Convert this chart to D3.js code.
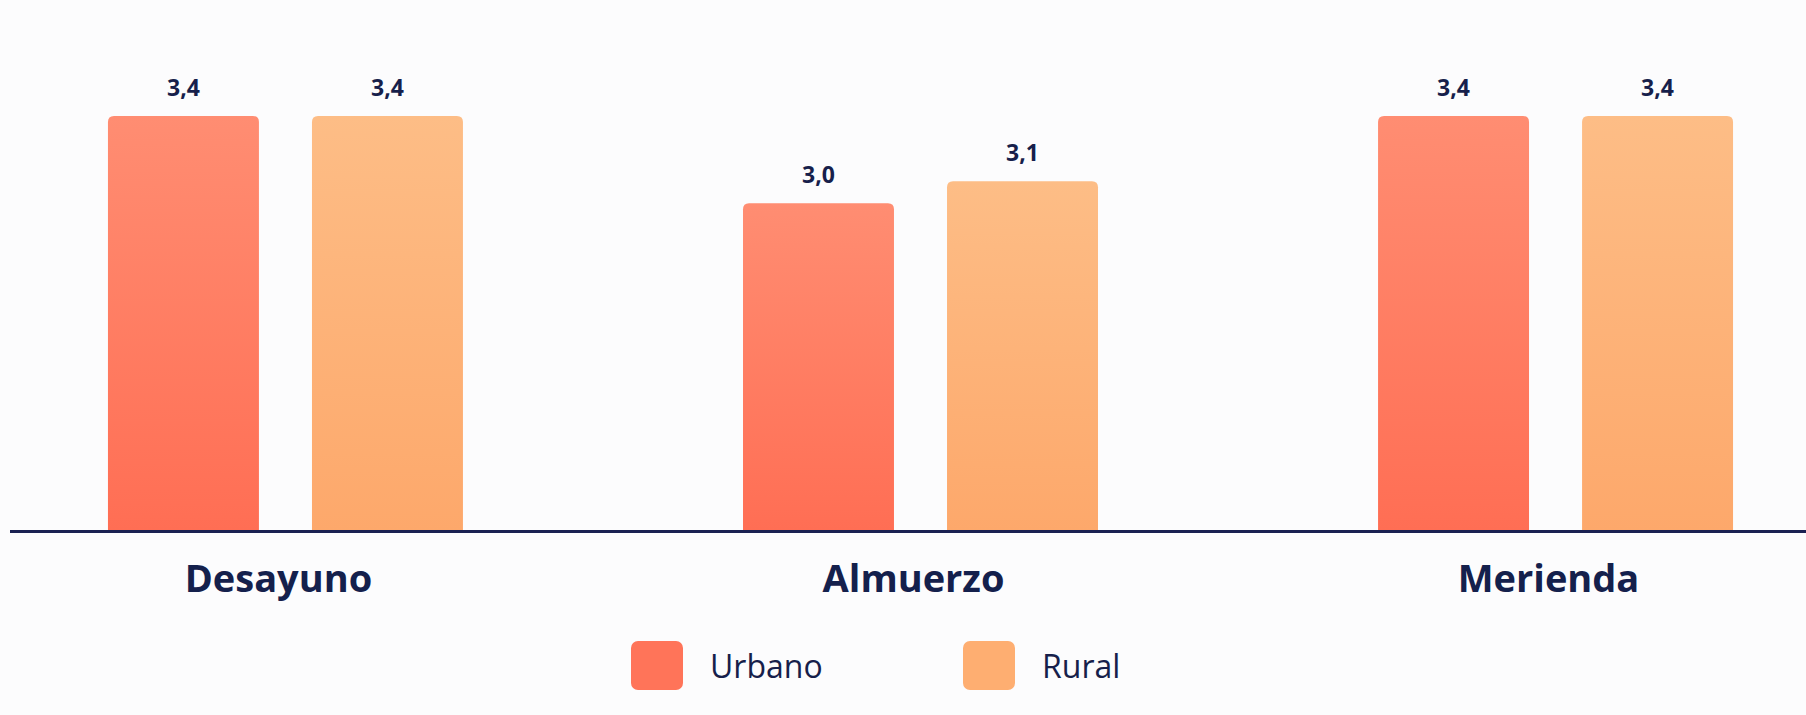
<!DOCTYPE html>
<html>
<head>
<meta charset="utf-8">
<script src="https://cdn.jsdelivr.net/npm/d3@7"></script>
<style>
  html, body { margin: 0; padding: 0; background: #fcfcfd; }
  svg { display: block; }
</style>
</head>
<body>
<svg id="chart" width="1806" height="715"></svg>
<script>
// Meal occasions and the two area series
const categories = ["Desayuno", "Almuerzo", "Merienda"];
const seriesNames = ["Urbano", "Rural"];
const urbano = [3.4, 3.0, 3.4];
const rural = [3.4, 3.1, 3.4];
const valueLabels = { Urbano: ["3,4", "3,0", "3,4"], Rural: ["3,4", "3,1", "3,4"] };

const width = 1806, height = 715;
const baseY = 530;
const ink = "#171f4b";

const seriesValues = { Urbano: urbano, Rural: rural };
const colors = {
  Urbano: { top: "#ff8d72", bottom: "#ff6e54", swatch: "#ff7459" },
  Rural:  { top: "#fdbd86", bottom: "#fda86b", swatch: "#feae71" }
};

const svg = d3.select("#chart");

// vertical gradients for the bars
const defs = svg.append("defs");
seriesNames.forEach(s => {
  const g = defs.append("linearGradient")
    .attr("id", "grad-" + s).attr("x1", 0).attr("y1", 0).attr("x2", 0).attr("y2", 1);
  g.append("stop").attr("offset", "0%").attr("stop-color", colors[s].top);
  g.append("stop").attr("offset", "100%").attr("stop-color", colors[s].bottom);
});

const x0 = d3.scaleBand().domain(categories).range([0, 1841])
  .paddingInner(0.441).paddingOuter(0.17);
const x1 = d3.scaleBand().domain(seriesNames).range([0, x0.bandwidth()])
  .paddingInner(0.26).paddingOuter(0);
const y = d3.scaleLinear().domain([1.5, 3.4]).range([baseY, 116]);

const rows = categories.map((c, i) => ({
  category: c,
  items: seriesNames.map(s => ({ series: s, value: seriesValues[s][i], label: valueLabels[s][i] }))
}));

// bar path with rounded top corners only
function barPath(x, yTop, w, yBot, r) {
  return `M${x},${yBot}V${yTop + r}Q${x},${yTop} ${x + r},${yTop}` +
         `H${x + w - r}Q${x + w},${yTop} ${x + w},${yTop + r}V${yBot}Z`;
}

const groups = svg.append("g").selectAll("g").data(rows).join("g")
  .attr("transform", d => `translate(${x0(d.category)},0)`);

groups.selectAll("path").data(d => d.items).join("path")
  .attr("d", d => barPath(x1(d.series), y(d.value), x1.bandwidth(), baseY, 6))
  .attr("fill", d => `url(#grad-${d.series})`);

groups.selectAll("text").data(d => d.items).join("text")
  .attr("x", d => x1(d.series) + x1.bandwidth() / 2)
  .attr("y", d => y(d.value) - 20)
  .attr("text-anchor", "middle")
  .attr("font-family", "'Open Sans', sans-serif")
  .attr("font-weight", 700)
  .attr("font-size", 23)
  .attr("fill", ink)
  .text(d => d.label);

// category axis
const axis = svg.append("g").attr("transform", `translate(0,${baseY})`)
  .call(d3.axisBottom(x0).tickSize(0).tickPadding(62));
axis.select(".domain").remove();
axis.selectAll("text")
  .attr("dx", -7)
  .attr("dy", 0)
  .attr("font-family", "'Open Sans', sans-serif")
  .attr("font-weight", 700)
  .attr("font-size", 38)
  .attr("fill", "#14204c");

svg.append("line")
  .attr("x1", 10).attr("x2", width)
  .attr("y1", baseY + 1.5).attr("y2", baseY + 1.5)
  .attr("stroke", "#1a2152").attr("stroke-width", 3);

// legend
const legend = svg.append("g").attr("transform", "translate(631,641)");
const li = legend.selectAll("g").data(seriesNames).join("g")
  .attr("transform", (d, i) => `translate(${i * 332},0)`);
li.append("rect").attr("width", 52).attr("height", 49).attr("rx", 7)
  .attr("fill", d => colors[d].swatch);
li.append("text").attr("x", 79).attr("y", 37)
  .attr("font-family", "'Open Sans', sans-serif")
  .attr("font-size", 32)
  .attr("fill", ink)
  .text(d => d);
</script>
</body>
</html>
